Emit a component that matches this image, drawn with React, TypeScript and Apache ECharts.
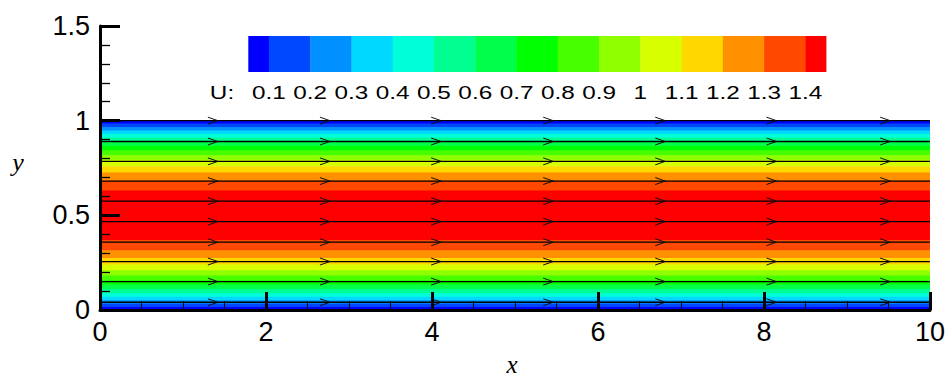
import React, { useEffect, useRef } from 'react';
import * as echarts from 'echarts';

// Contour levels of U and the 15 flood colours (below 0.1 ... above 1.4)
const contourLevels = [0.1, 0.2, 0.3, 0.4, 0.5, 0.6, 0.7, 0.8, 0.9, 1.0, 1.1, 1.2, 1.3, 1.4];
const contourColors = [
  '#0000ff', '#0048ff', '#0090ff', '#00d8ff', '#00ffd8', '#00ff90', '#00ff48', '#00ff00',
  '#48ff00', '#90ff00', '#d8ff00', '#ffd800', '#ff9000', '#ff4800', '#ff0000',
];
const colorbarRange = [0.05, 1.45];

// y positions where U crosses each contour level
const lowerCrossings = [0.017, 0.035, 0.053, 0.072, 0.092, 0.113, 0.135, 0.158, 0.184, 0.211, 0.242, 0.276, 0.317, 0.371];
const upperCrossings = [0.983, 0.965, 0.947, 0.928, 0.908, 0.887, 0.865, 0.842, 0.816, 0.789, 0.758, 0.724, 0.683, 0.629];

// streamlines and arrow stations
const streamlineY = [0.041, 0.15, 0.256, 0.358, 0.467, 0.575, 0.681, 0.785, 0.89, 1.0];
const arrowX = [1.36, 2.71, 4.05, 5.4, 6.75, 8.09, 9.46];

const xRange = [0, 10];
const yRange = [0, 1.5];

function buildBands() {
  const bands: number[][] = [];
  bands.push([0, lowerCrossings[0], 0]);
  bands.push([upperCrossings[0], 1, 0]);
  for (let k = 1; k < contourLevels.length; k++) {
    bands.push([lowerCrossings[k - 1], lowerCrossings[k], k]);
    bands.push([upperCrossings[k], upperCrossings[k - 1], k]);
  }
  const last = contourLevels.length - 1;
  bands.push([lowerCrossings[last], upperCrossings[last], contourLevels.length]);
  return bands;
}

function buildColorbar() {
  return contourColors.map((_, i) => [
    i === 0 ? colorbarRange[0] : contourLevels[i - 1],
    i === contourColors.length - 1 ? colorbarRange[1] : contourLevels[i],
    i,
  ]);
}

const fmt = (v: number) => (Math.abs(v - 1) < 1e-9 ? '1' : v.toFixed(1));

export default function App() {
  const ref = useRef<HTMLDivElement>(null);
  useEffect(() => {
    document.body.style.margin = '0';
    const chart = echarts.init(ref.current!, null, { renderer: 'svg' });
    const bands = buildBands();
    const cbar = buildColorbar();
    const arrows: number[][] = [];
    streamlineY.forEach((y) => arrowX.forEach((x) => arrows.push([x, y])));

    const axisFont = { fontFamily: '"Liberation Sans", Arial, sans-serif', fontSize: 27, color: '#000' };

    chart.setOption({
      animation: false,
      grid: [
        { left: 100, right: 16.5, top: 26, bottom: 69 },
        { left: 248.3, top: 36, width: 577.7, height: 36 },
      ],
      xAxis: [
        {
          type: 'value', min: xRange[0], max: xRange[1], interval: 2, z: 10,
          axisLine: { show: true, lineStyle: { color: '#000', width: 3 } },
          axisTick: { inside: true, length: 18, lineStyle: { color: '#000', width: 3 } },
          minorTick: { show: true, splitNumber: 4, length: 9, lineStyle: { color: '#000', width: 1 } },
          splitLine: { show: false },
          axisLabel: { ...axisFont, margin: 8 },
        },
        { gridIndex: 1, type: 'value', min: colorbarRange[0], max: colorbarRange[1], show: false },
      ],
      yAxis: [
        {
          type: 'value', min: yRange[0], max: yRange[1], interval: 0.5, z: 10,
          axisLine: { show: true, lineStyle: { color: '#000', width: 3 } },
          axisTick: { inside: true, length: 20, lineStyle: { color: '#000', width: 3 } },
          minorTick: { show: true, splitNumber: 5, length: 10, lineStyle: { color: '#000', width: 1.3 } },
          splitLine: { show: false },
          axisLabel: { ...axisFont, margin: 10 },
        },
        { gridIndex: 1, type: 'value', min: 0, max: 1, show: false },
      ],
      graphic: [
        { type: 'text', x: 222, y: 93, scaleX: 1.35, style: { text: 'U:', font: '18px "Liberation Sans", Arial, sans-serif', fill: '#000', textAlign: 'center', textVerticalAlign: 'middle' } },
        { type: 'text', x: 512, y: 377, style: { text: 'x', font: 'italic 25px "Liberation Serif", serif', fill: '#000', textAlign: 'center', textVerticalAlign: 'bottom' } },
        { type: 'text', x: 18, y: 162, style: { text: 'y', font: 'italic 26px "Liberation Serif", serif', fill: '#000', textAlign: 'center', textVerticalAlign: 'middle' } },
      ],
      series: [
        {
          type: 'custom', xAxisIndex: 0, yAxisIndex: 0, z: 2, data: bands,
          renderItem: (params: any, api: any) => {
            const y0 = api.value(0), y1 = api.value(1), idx = api.value(2);
            const a = api.coord([xRange[0], y1]);
            const b = api.coord([xRange[1], y0]);
            return { type: 'rect', shape: { x: a[0], y: a[1] - 0.3, width: b[0] - a[0], height: b[1] - a[1] + 0.6 }, style: { fill: contourColors[idx] } };
          },
        },
        ...streamlineY.map((y) => ({
          type: 'line', xAxisIndex: 0, yAxisIndex: 0, z: 3, symbol: 'none',
          data: [[xRange[0], y], [xRange[1], y]],
          lineStyle: { color: '#000', width: 1.3 },
        })),
        {
          type: 'custom', xAxisIndex: 0, yAxisIndex: 0, z: 4, data: arrows,
          renderItem: (params: any, api: any) => {
            const p = api.coord([api.value(0), api.value(1)]);
            return {
              type: 'polyline',
              shape: { points: [[p[0] - 5, p[1] - 3.5], [p[0] + 5, p[1]], [p[0] - 5, p[1] + 3.5]] },
              style: { stroke: '#111', lineWidth: 1, fill: 'none' },
            };
          },
        },
        {
          type: 'custom', xAxisIndex: 1, yAxisIndex: 1, z: 2, data: cbar,
          renderItem: (params: any, api: any) => {
            const lo = api.value(0), hi = api.value(1), idx = api.value(2);
            const a = api.coord([lo, 1]);
            const b = api.coord([hi, 0]);
            const children: any[] = [
              { type: 'rect', shape: { x: a[0], y: a[1], width: b[0] - a[0] + 0.4, height: b[1] - a[1] }, style: { fill: contourColors[idx] } },
            ];
            if (idx < contourColors.length - 1) {
              children.push({
                type: 'text', x: b[0], y: b[1] + 21, scaleX: 1.35,
                style: { text: fmt(hi), font: '18px "Liberation Sans", Arial, sans-serif', fill: '#000', textAlign: 'center', textVerticalAlign: 'middle' },
              });
            }
            return { type: 'group', children };
          },
        },
      ],
    });
    return () => chart.dispose();
  }, []);
  return <div ref={ref} style={{ width: 948, height: 379 }} />;
}
